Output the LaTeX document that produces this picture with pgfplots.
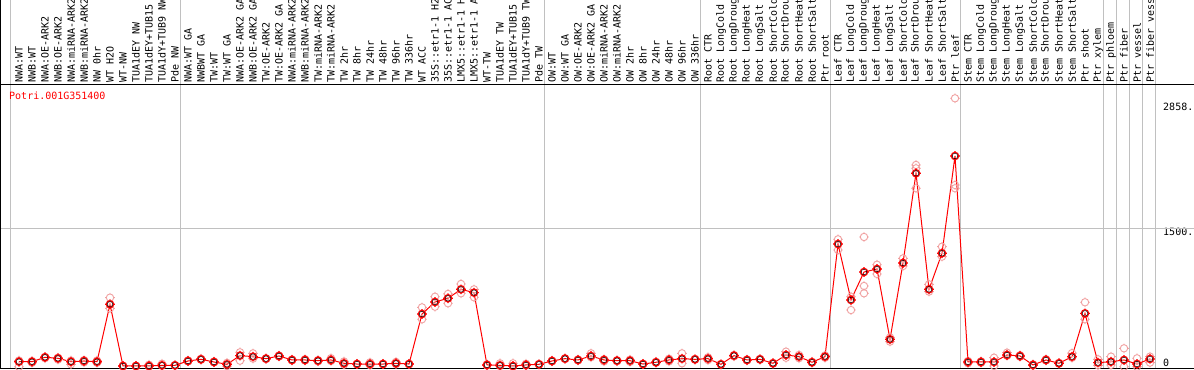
\documentclass[border=0pt]{standalone}
\usepackage{pgfplots}
\pgfplotsset{compat=1.18}
\usepackage{fontspec}
\setmainfont{DejaVu Sans Mono}
\definecolor{gridgray}{HTML}{C0C0C0}
\definecolor{pale}{HTML}{F0A0A0}
\pgfdeclareplotmark{tcirc}{%
  \pgfpathcircle{\pgfpointorigin}{3.7pt}%
  \pgfpathmoveto{\pgfqpoint{0pt}{3.7pt}}\pgfpathlineto{\pgfqpoint{0pt}{4.8pt}}%
  \pgfpathmoveto{\pgfqpoint{0pt}{-3.7pt}}\pgfpathlineto{\pgfqpoint{0pt}{-4.8pt}}%
  \pgfpathmoveto{\pgfqpoint{3.7pt}{0pt}}\pgfpathlineto{\pgfqpoint{4.8pt}{0pt}}%
  \pgfpathmoveto{\pgfqpoint{-3.7pt}{0pt}}\pgfpathlineto{\pgfqpoint{-4.8pt}{0pt}}%
  \pgfusepathqstroke}
\pgfdeclareplotmark{mcirc}{%
  \pgfsetstrokecolor{red}\pgfsetlinewidth{1.2pt}%
  \pgfpathcircle{\pgfpointorigin}{3.7pt}%
  \pgfpathmoveto{\pgfqpoint{0pt}{3.7pt}}\pgfpathlineto{\pgfqpoint{0pt}{4.8pt}}%
  \pgfpathmoveto{\pgfqpoint{0pt}{-3.7pt}}\pgfpathlineto{\pgfqpoint{0pt}{-4.8pt}}%
  \pgfpathmoveto{\pgfqpoint{3.7pt}{0pt}}\pgfpathlineto{\pgfqpoint{4.8pt}{0pt}}%
  \pgfpathmoveto{\pgfqpoint{-3.7pt}{0pt}}\pgfpathlineto{\pgfqpoint{-4.8pt}{0pt}}%
  \pgfusepathqstroke
  \pgfsetstrokecolor{black}\pgfsetlinewidth{0.45pt}%
  \pgfpathcircle{\pgfpointorigin}{2.8pt}%
  \pgfusepathqstroke}
\pgfplotstableread{
x y
0 57
1 57
2 105
3 94
4 57
5 65
6 57
7 678
8 11
9 11
10 11
11 18
12 18
13 65
14 83
15 54
16 29
17 123
18 112
19 90
20 119
21 76
22 76
23 68
24 76
25 40
26 32
27 32
28 32
29 40
30 32
31 573
32 703
33 743
34 840
35 804
36 22
37 18
38 11
39 22
40 29
41 65
42 90
43 76
44 119
45 76
46 68
47 68
48 32
49 51
50 76
51 90
52 83
53 90
54 29
55 123
56 76
57 83
58 40
59 130
60 112
61 51
62 112
63 1330
64 725
65 1027
66 1060
67 299
68 1125
69 2095
70 840
71 1230
72 2282
73 54
74 54
75 54
76 130
77 119
78 22
79 76
80 40
81 112
82 580
83 47
84 57
85 76
86 32
87 87
}\meantable
\pgfplotstableread{
x y
0 3
0 70
1 45
1 65
2 95
2 110
3 80
3 100
4 29
4 70
5 50
5 75
6 45
6 70
7 750
7 634
8 5
8 15
9 8
9 14
10 5
10 25
11 12
11 35
12 15
12 22
13 60
13 72
14 78
14 90
15 50
15 60
16 10
16 45
17 159
17 68
18 148
18 90
19 85
19 95
20 112
20 125
21 70
21 82
22 70
22 85
23 60
23 75
24 65
24 95
25 25
25 60
26 28
26 36
27 20
27 50
28 28
28 36
29 30
29 55
30 28
30 36
31 645
31 516
32 760
32 652
33 790
33 689
34 898
34 797
35 840
35 754
36 15
36 30
37 10
37 40
38 5
38 40
39 15
39 35
40 25
40 33
41 60
41 70
42 85
42 95
43 70
43 82
44 148
44 105
45 60
45 85
46 62
46 74
47 55
47 80
48 28
48 36
49 45
49 57
50 60
50 90
51 148
51 40
52 78
52 88
53 75
53 105
54 25
54 33
55 115
55 130
56 70
56 82
57 78
57 88
58 35
58 45
59 166
59 100
60 95
60 130
61 45
61 57
62 100
62 125
63 1381
63 1265
64 760
64 616
65 1406
65 876
65 797
66 1106
66 1006
67 274
67 320
68 1175
68 1092
69 2185
69 2149
69 1933
70 894
70 815
71 1301
71 1193
72 2906
72 1968
72 1933
73 40
73 65
74 45
74 62
75 101
75 11
76 155
76 120
77 110
77 128
78 15
78 30
79 70
79 85
80 35
80 45
81 100
81 150
82 700
82 516
83 83
83 18
84 112
84 22
85 202
85 3
86 94
86 3
87 112
87 47
}\reptable
\begin{document}
\begin{tikzpicture}
\begin{axis}[
  scale only axis, width=1194pt, height=284pt,
  xmin=-1.4615, xmax=90.385, ymin=-21.6, ymax=3049.8,
  axis line style={draw=none},
  clip=false,
  xtick={0,...,87},
  xticklabels={NWA:WT,NWB:WT,NWA:OE-ARK2,NWB:OE-ARK2,NWA:miRNA-ARK2,NWB:miRNA-ARK2,NW 0hr,WT H2O,WT-NW,TUA1dEY NW,TUA1dEY+TUB15 NW,TUA1dY+TUB9 NW,Pde NW,NWA:WT GA,NWBWT GA,TW:WT,TW:WT GA,NWA:OE-ARK2 GA,NWB:OE-ARK2 GA,TW:OE-ARK2,TW:OE-ARK2 GA,NWA:miRNA-ARK2 GA,NWB:miRNA-ARK2 GA,TW:miRNA-ARK2,TW:miRNA-ARK2 GA,TW 2hr,TW 8hr,TW 24hr,TW 48hr,TW 96hr,TW 336hr,WT ACC,35S::etr1-1 H2O,35S::etr1-1 ACC,LMX5::etr1-1 H2O,LMX5::etr1-1 ACC,WT-TW,TUA1dEY TW,TUA1dEY+TUB15 TW,TUA1dY+TUB9 TW,Pde TW,OW:WT,OW:WT GA,OW:OE-ARK2,OW:OE-ARK2 GA,OW:miRNA-ARK2,OW:miRNA-ARK2 GA,OW 2hr,OW 8hr,OW 24hr,OW 48hr,OW 96hr,OW 336hr,Root CTR,Root LongCold,Root LongDrought,Root LongHeat,Root LongSalt,Root ShortCold,Root ShortDrought,Root ShortHeat,Root ShortSalt,Ptr root,Leaf CTR,Leaf LongCold,Leaf LongDrought,Leaf LongHeat,Leaf LongSalt,Leaf ShortCold,Leaf ShortDrought,Leaf ShortHeat,Leaf ShortSalt,Ptr leaf,Stem CTR,Stem LongCold,Stem LongDrought,Stem LongHeat,Stem LongSalt,Stem ShortCold,Stem ShortDrought,Stem ShortHeat,Stem ShortSalt,Ptr shoot,Ptr xylem,Ptr phloem,Ptr fiber,Ptr vessel,Ptr fiber vessel},
  xticklabel pos=upper,
  xticklabel shift=2pt,
  xticklabel style={rotate=90, anchor=west, inner sep=0pt},
  major tick length=0pt,
  ytick={0,1500,2858},
  yticklabels={\smash{\raisebox{1pt}{0}},1500.,2858.},
  yticklabel pos=right,
  yticklabel style={anchor=north west, inner sep=0pt, xshift=-31pt},
  extra y ticks={1500}, extra y tick labels={},
  extra y tick style={ymajorgrids=true, major grid style={gridgray, line width=1pt}},
  tick label style={font=\fontsize{10}{12}\selectfont},
  /pgf/number format/assume math mode=true,
]
\pgfplotsinvokeforeach{-0.64,12.4,40.4,52.4,62.4,72.4,83.4,84.4,85.4,86.4,87.4}{
  \draw[gridgray, line width=1pt] (axis cs:#1,-21.6) -- ([yshift=85pt]axis cs:#1,3049.8);
}
\draw[black, line width=1pt] ([xshift=1pt]rel axis cs:0,0) -- ([xshift=1pt,yshift=85pt]rel axis cs:0,1);
\draw[black, line width=1pt] (rel axis cs:0,1) -- (rel axis cs:1,1);
\draw[black, line width=1pt] (rel axis cs:0,0) -- (rel axis cs:1,0);
\addplot[only marks, mark=tcirc, mark options={draw=pale, line width=0.9pt}] table {\reptable};
\addplot[red, line width=1pt, mark=mcirc] table {\meantable};
\node[anchor=base west, text=red, inner sep=0pt, font=\fontsize{10}{12}\selectfont] at ([xshift=9pt, yshift=-15pt]rel axis cs:0,1) {Potri.001G351400};
\coordinate (bl) at (rel axis cs:0,0);
\coordinate (tr) at (rel axis cs:1,1);
\end{axis}
\pgfresetboundingbox
\path[use as bounding box] ([yshift=-1pt]bl) rectangle ([yshift=85pt]tr);
\end{tikzpicture}
\end{document}
